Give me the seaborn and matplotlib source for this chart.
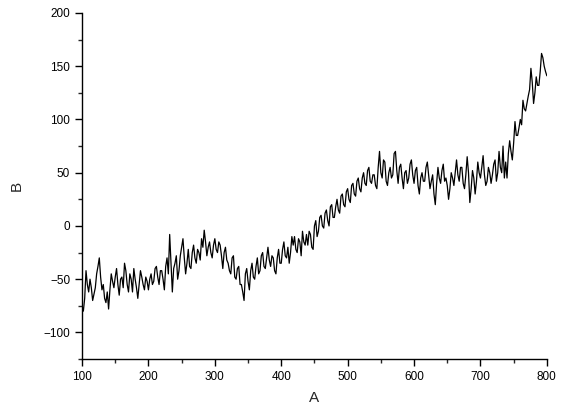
import matplotlib
matplotlib.use("Agg")
import matplotlib.pyplot as plt
from matplotlib.ticker import MultipleLocator
import pandas as pd
import seaborn as sns

# values, one every 2 units of A
A = list(range(100, 801, 2))
B = [
    -75, -80, -68, -42, -55, -62, -50, -58, -70, -64,
    -58, -45, -38, -30, -48, -60, -55, -68, -72, -62,
    -78, -60, -45, -52, -58, -48, -40, -55, -65, -50,
    -48, -58, -35, -42, -55, -62, -45, -50, -62, -40,
    -50, -58, -68, -55, -42, -48, -55, -60, -48, -52,
    -60, -50, -45, -55, -52, -40, -38, -48, -55, -42,
    -42, -50, -60, -38, -30, -45, -8, -35, -62, -40,
    -35, -28, -50, -42, -28, -20, -12, -30, -45, -35,
    -22, -38, -40, -25, -18, -30, -35, -22, -25, -32,
    -12, -20, -4, -15, -28, -20, -15, -25, -30, -18,
    -12, -22, -25, -15, -18, -28, -40, -25, -20, -32,
    -35, -42, -45, -30, -28, -48, -50, -40, -38, -55,
    -55, -62, -70, -45, -40, -52, -60, -42, -35, -48,
    -50, -38, -30, -45, -42, -28, -25, -38, -40, -30,
    -20, -32, -38, -28, -30, -42, -45, -30, -22, -35,
    -35, -22, -15, -28, -30, -20, -35, -25, -10, -18,
    -10, -22, -25, -12, -15, -28, -5, -15, -18, -8,
    -18, -5, -8, -20, -22, 0, 5, -10, -5, 8,
    10, 0, -2, 12, 15, 5, 0, 18, 20, 8,
    8, 18, 25, 15, 12, 28, 30, 20, 18, 32,
    35, 25, 22, 38, 40, 30, 28, 42, 45, 35,
    32, 45, 50, 40, 38, 52, 55, 42, 40, 48,
    48, 38, 35, 55, 70, 50, 45, 62, 60, 42,
    38, 50, 55, 45, 48, 68, 70, 52, 40, 55,
    58, 45, 35, 50, 52, 40, 45, 58, 62, 48,
    40, 52, 55, 38, 30, 45, 50, 42, 42, 55,
    60, 48, 35, 42, 48, 30, 20, 40, 55, 45,
    40, 52, 58, 42, 45, 38, 25, 35, 50, 45,
    38, 50, 62, 48, 42, 55, 55, 40, 35, 48,
    65, 50, 22, 35, 52, 45, 30, 42, 60, 50,
    45, 55, 66, 48, 38, 42, 55, 50, 40, 48,
    58, 62, 42, 50, 70, 55, 50, 75, 45, 60,
    45, 68, 80, 70, 62, 78, 98, 85, 85, 92,
    100, 95, 118, 110, 108, 115, 122, 128, 148, 135,
    115, 125, 140, 132, 132, 145, 162, 158, 150, 145,
    141,
]

df = pd.DataFrame({"A": A, "B": B})

sns.set_style("ticks")
plt.rcParams["font.family"] = ["Liberation Sans", "DejaVu Sans"]

fig = plt.figure(figsize=(5.83, 4.18), dpi=100)
ax = fig.add_axes([0.1407, 0.141, 0.7973, 0.828])

sns.lineplot(data=df, x="A", y="B", color="black", linewidth=0.9, ax=ax)

ax.set_xlim(100, 800)
ax.set_ylim(-125, 200)
ax.xaxis.set_major_locator(MultipleLocator(100))
ax.xaxis.set_minor_locator(MultipleLocator(50))
ax.yaxis.set_major_locator(MultipleLocator(50))
ax.yaxis.set_minor_locator(MultipleLocator(25))
ax.tick_params(which="major", length=5, width=1, labelsize=8.5, colors="black")
ax.tick_params(which="minor", length=3, width=1)
for s in ["top", "right"]:
    ax.spines[s].set_visible(False)
for s in ["left", "bottom"]:
    ax.spines[s].set_linewidth(1)
    ax.spines[s].set_color("black")

ax.set_xlabel("A", fontsize=11, labelpad=6)
ax.set_ylabel("B", fontsize=11, labelpad=14)

fig.savefig("out.png", dpi=100)
